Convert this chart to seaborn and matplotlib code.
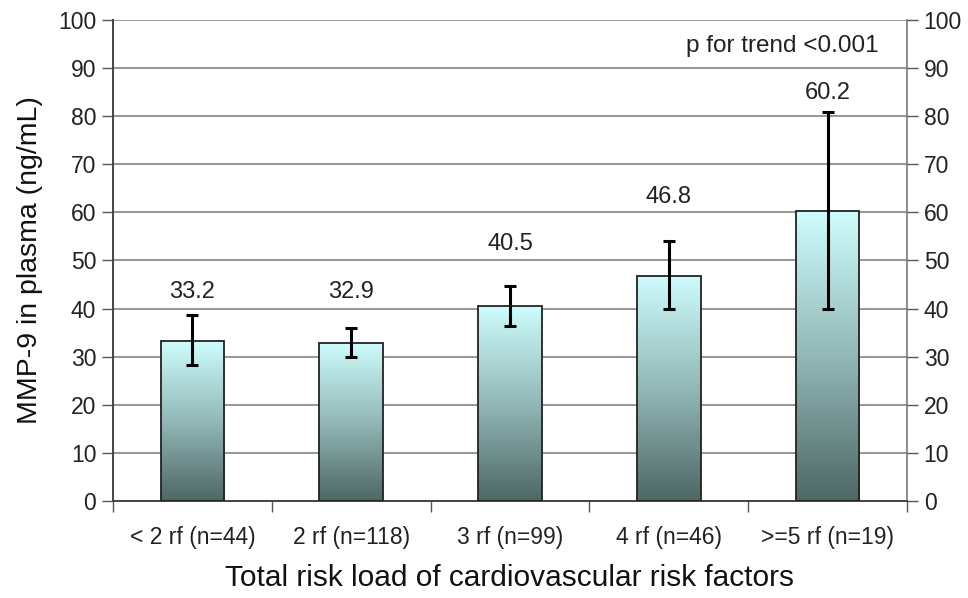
import numpy as np
import pandas as pd
import matplotlib
matplotlib.use("Agg")
import matplotlib.pyplot as plt
import seaborn as sns
from matplotlib.colors import LinearSegmentedColormap
from matplotlib.ticker import FixedLocator, NullFormatter

# data
groups = ["< 2 rf (n=44)", "2 rf (n=118)", "3 rf (n=99)", "4 rf (n=46)", ">=5 rf (n=19)"]
means = [33.2, 32.9, 40.5, 46.8, 60.2]
err_low = [28.2, 29.9, 36.4, 39.9, 40.0]
err_high = [38.6, 36.0, 44.7, 54.0, 80.9]
label_y = [43.5, 43.5, 53.4, 63.2, 84.8]

df = pd.DataFrame({"group": groups, "mean": means})

sns.set_theme(style="white")
plt.rcParams["font.family"] = ["Liberation Sans", "DejaVu Sans"]

fig = plt.figure(figsize=(9.68, 5.98), dpi=100)
ax = fig.add_axes([0.1167, 0.1622, 0.8203, 0.8044])

sns.barplot(data=df, x="group", y="mean", ax=ax, width=0.4, errorbar=None,
            color="white", edgecolor="#222222", linewidth=1.3, zorder=3)

# vertical gradient in each bar, light cyan top to dark slate bottom
cmap = LinearSegmentedColormap.from_list(
    "bar", [(0.0, "#4e6765"), (0.5, "#92b8b7"), (1.0, "#cefcfc")])
grad = np.linspace(0, 1, 256).reshape(-1, 1)
for p in ax.patches:
    x0, y0 = p.get_x(), p.get_y()
    w, h = p.get_width(), p.get_height()
    p.set_facecolor("none")
    im = ax.imshow(grad, cmap=cmap, origin="lower", aspect="auto",
                   extent=[x0, x0 + w, y0, y0 + h], zorder=2.5)
    im.set_clip_path(p)
ax.set_xlim(-0.5, len(groups) - 0.5)
ax.set_ylim(0, 100)

# asymmetric error bars
pos = np.arange(len(groups))
m = np.array(means)
yerr = [m - np.array(err_low), np.array(err_high) - m]
ax.errorbar(pos, m, yerr=yerr, fmt="none", ecolor="black", elinewidth=2.2,
            capsize=4.5, capthick=2.2, zorder=4)

for x, v, ly in zip(pos, means, label_y):
    ax.text(x, ly, f"{v:.1f}", ha="center", va="center", fontsize=17, color="#222222")

ax.text(4.32, 94.6, "p for trend <0.001", ha="right", va="center", fontsize=17.5, color="#222222")

# grid and axes
ax.set_yticks(np.arange(0, 101, 10))
ax.yaxis.grid(True, color="#7a7a7a", linewidth=1.1, zorder=0)
ax.set_axisbelow(True)
ax.tick_params(axis="y", direction="out", length=8, width=1, color="#555555",
               labelsize=16.5, labelcolor="#222222", left=True, pad=4)
ax.tick_params(axis="x", which="major", length=0, labelsize=16.5, labelcolor="#222222", pad=18)
ax.xaxis.set_minor_locator(FixedLocator(np.arange(-0.5, len(groups), 1.0)))
ax.xaxis.set_minor_formatter(NullFormatter())
ax.tick_params(axis="x", which="minor", direction="out", length=8, width=1,
               color="#555555", bottom=True)

for side in ["left", "bottom"]:
    ax.spines[side].set_color("#444444")
    ax.spines[side].set_linewidth(1.4)
ax.spines["top"].set_visible(False)
ax.spines["right"].set_color("#777777")
ax.spines["right"].set_linewidth(1.2)

ax2 = ax.twinx()
ax2.set_ylim(0, 100)
ax2.set_yticks(np.arange(0, 101, 10))
ax2.tick_params(axis="y", direction="out", length=8, width=1, color="#555555",
                labelsize=16.5, labelcolor="#222222", right=True, pad=4)
for s in ax2.spines.values():
    s.set_visible(False)
ax2.grid(False)

ax.set_xlabel("Total risk load of cardiovascular risk factors", fontsize=21.5,
              color="#111111", labelpad=11)
ax.set_ylabel("MMP-9 in plasma (ng/mL)", fontsize=20.5, color="#111111", labelpad=11)

fig.savefig("out.png", dpi=100)
